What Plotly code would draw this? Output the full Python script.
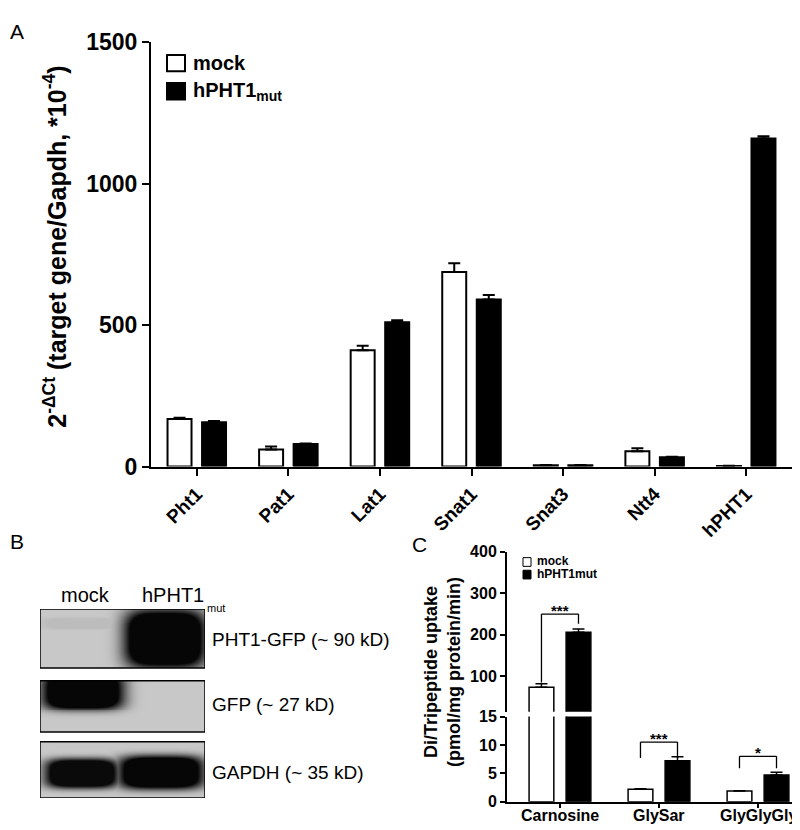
import numpy as np
import plotly.graph_objects as go

# ---- panel A: qPCR, 2^-dCt relative to Gapdh (*10^-4)
genes = ["Pht1", "Pat1", "Lat1", "Snat1", "Snat3", "Ntt4", "hPHT1"]
mock_a = [168, 60, 411, 688, 5, 54, 2]
mock_a_err = [5, 11, 16, 31, 1, 11, 1]
mut_a = [157, 80, 510, 591, 5, 33, 1160]
mut_a_err = [4, 2, 7, 16, 1, 2, 8]

# ---- panel C: di/tripeptide uptake (pmol/mg protein/min)
peptides = ["Carnosine", "GlySar", "GlyGlyGly"]
mock_c = [74, 2.2, 1.9]
mock_c_err = [8, 0.1, 0.05]
mut_c = [206, 7.2, 4.7]
mut_c_err = [8, 0.7, 0.5]
stars_c = ["***", "***", "*"]

FONT = "Liberation Sans, Arial, sans-serif"
W, H = 800, 830


def px(x):
    return x / W


def py(y):
    return 1 - y / H


fig = go.Figure()

# panel A bars
err_style = dict(type="data", symmetric=False, color="black", thickness=2, width=6)
fig.add_trace(go.Bar(x=genes, y=mock_a, width=0.262, offset=-0.3195,
                     marker=dict(color="white", line=dict(color="black", width=2)),
                     error_y=dict(array=mock_a_err, arrayminus=[0] * len(genes), **err_style),
                     xaxis="x", yaxis="y", showlegend=False))
fig.add_trace(go.Bar(x=genes, y=mut_a, width=0.262, offset=0.0575,
                     marker=dict(color="black", line=dict(color="black", width=2)),
                     error_y=dict(array=mut_a_err, arrayminus=[0] * len(genes), **err_style),
                     xaxis="x", yaxis="y", showlegend=False))

# panel C bars, drawn twice for the broken axis (bottom 0-15, top 15-400)
err_c = dict(type="data", symmetric=False, color="black", thickness=1.5, width=6)
for xa, ya in [("x2", "y2"), ("x3", "y3")]:
    fig.add_trace(go.Bar(x=peptides, y=mock_c, width=0.25, offset=-0.312,
                         marker=dict(color="white", line=dict(color="black", width=1.5)),
                         error_y=dict(array=mock_c_err, arrayminus=[0] * 3, **err_c),
                         xaxis=xa, yaxis=ya, showlegend=False))
    fig.add_trace(go.Bar(x=peptides, y=mut_c, width=0.25, offset=0.062,
                         marker=dict(color="black", line=dict(color="black", width=1.5)),
                         error_y=dict(array=mut_c_err, arrayminus=[0] * 3, **err_c),
                         xaxis=xa, yaxis=ya, showlegend=False))


# panel B: western blot pictures (grey background, dark bands)
def blot_image(x0, x1, y0, y1, bands, bg=200):
    xs = np.arange(x0, x1) + 0.5
    ys = np.arange(y0, y1) + 0.5
    X, Y = np.meshgrid(xs, ys)
    dark = np.zeros_like(X)
    for cx, cy, rx, ry, d in bands:
        blob = np.exp(-(np.abs((X - cx) / rx) ** 4 + np.abs((Y - cy) / ry) ** 4))
        dark = np.maximum(dark, d * np.clip(1.8 * blob, 0, 1))
    return xs, ys, bg * (1 - dark)


blots = [
    (32, 197, 607, 668, [(75, 622, 40, 6, 0.06), (157, 638, 40, 30, 0.97)]),
    (32, 197, 681, 734, [(75, 692, 40, 19, 0.97)]),
    (32, 197, 744, 802, [(74, 777, 36, 15, 0.95), (153, 776, 42, 17, 0.97)]),
]
for x0, x1, y0, y1, bands in blots:
    xs, ys, z = blot_image(x0, x1, y0, y1, bands)
    fig.add_trace(go.Heatmap(x=xs, y=ys, z=z, zmin=0, zmax=255, showscale=False,
                             colorscale=[[0, "black"], [1, "white"]], hoverinfo="skip",
                             xaxis="x4", yaxis="y4"))

axis_common = dict(showline=True, linecolor="black", linewidth=2, ticks="outside",
                   tickcolor="black", showgrid=False, zeroline=False)

fig.update_layout(
    width=W, height=H, margin=dict(l=0, r=0, t=0, b=0),
    paper_bgcolor="white", plot_bgcolor="white", barmode="overlay",
    font=dict(family=FONT, color="black"),
    xaxis=dict(domain=[px(143), px(784)], range=[-0.5, 6.5], anchor="y",
               tickangle=-45, ticklen=7, tickwidth=2,
               tickfont=dict(size=19, weight="bold"), **axis_common),
    yaxis=dict(domain=[py(460), py(22)], range=[0, 1500], dtick=500, anchor="x",
               ticklen=7, tickwidth=2, tickfont=dict(size=23, weight="bold"), **axis_common),
    xaxis2=dict(domain=[px(499), 1.0], range=[-0.535, 2.505], anchor="y2",
                ticklen=4, tickwidth=1.5, showticklabels=False, **axis_common),
    yaxis2=dict(domain=[py(806), py(718)], range=[0, 15], tickvals=[0, 5, 10, 15], anchor="x2",
                ticklen=5, tickwidth=1.5, tickfont=dict(size=16, weight="bold"), **axis_common),
    xaxis3=dict(domain=[px(499), 1.0], range=[-0.535, 2.505], anchor="y3", matches="x2",
                visible=False),
    yaxis3=dict(domain=[py(713), py(548)], range=[15, 400], tickvals=[100, 200, 300, 400],
                anchor="x3", ticklen=5, tickwidth=1.5,
                tickfont=dict(size=16, weight="bold"), **axis_common),
    xaxis4=dict(domain=[px(32), px(197)], range=[32, 197], visible=False, anchor="y4"),
    yaxis4=dict(domain=[py(802), py(607)], range=[802, 607], visible=False, anchor="x4"),
)

for x0, x1, y0, y1, _ in blots:
    fig.add_shape(type="rect", xref="x4", yref="y4", x0=x0, x1=x1, y0=y0, y1=y1,
                  line=dict(color="black", width=1.5))

# category labels of panel C placed just under the axis
for p in peptides:
    fig.add_annotation(x=p, y=py(820), xref="x2", yref="paper", text="<b>" + p + "</b>",
                       showarrow=False, yanchor="middle", font=dict(size=16))

# significance brackets in panel C
bracket_top = [250, 10.5, 8.0]
leg_left = [85, 7.7, 5.9]
leg_right = [227, 7.7, 5.9]
for i, s in enumerate(stars_c):
    xa, ya = ("x3", "y3") if i == 0 else ("x2", "y2")
    xl, xr = i - 0.187, i + 0.187
    ln = dict(color="black", width=1.3)
    fig.add_shape(type="line", xref=xa, yref=ya, x0=xl, x1=xl, y0=leg_left[i], y1=bracket_top[i], line=ln)
    fig.add_shape(type="line", xref=xa, yref=ya, x0=xl, x1=xr, y0=bracket_top[i], y1=bracket_top[i], line=ln)
    fig.add_shape(type="line", xref=xa, yref=ya, x0=xr, x1=xr, y0=leg_right[i], y1=bracket_top[i], line=ln)
    fig.add_annotation(x=i, y=bracket_top[i], xref=xa, yref=ya, text="<b>" + s + "</b>",
                       showarrow=False, yanchor="bottom", yshift=-7, font=dict(size=15))

ann = []


def text(x, y, t, size, xanchor="left", angle=0):
    ann.append(dict(x=px(x), y=py(y), xref="paper", yref="paper", text=t, showarrow=False,
                    xanchor=xanchor, yanchor="middle", textangle=angle,
                    font=dict(size=size, family=FONT, color="black")))


# panel letters
text(0, 11, "A", 21)
text(0, 537, "B", 21)
text(402, 540, "C", 21)

# panel A titles and legend
text(47, 233, "<b>2<sup>-ΔCt</sup> (target gene/Gapdh, *10<sup>-4</sup>)</b>", 25, "center", -90)
text(183, 43, "<b>mock</b>", 20)
text(183, 73, "<b>hPHT1<sub>mut</sub></b>", 20)
fig.add_shape(type="rect", xref="paper", yref="paper", x0=px(159), x1=px(177), y0=py(35), y1=py(52),
              line=dict(color="black", width=2), fillcolor="white")
fig.add_shape(type="rect", xref="paper", yref="paper", x0=px(159), x1=px(177), y0=py(64), y1=py(81),
              line=dict(color="black", width=2), fillcolor="black")

# panel B labels
text(77, 593, "mock", 20, "center")
text(132, 593, "hPHT1", 20)
text(197, 606, "mut", 11)
text(202, 638, "PHT1-GFP (~ 90 kD)", 19)
text(202, 706, "GFP (~ 27 kD)", 19)
text(202, 776, "GAPDH (~ 35 kD)", 19)

# panel C title and legend
text(435, 672, "<b>Di/Tripeptide uptake<br>(pmol/mg protein/min)</b>", 18, "center", -90)
fig.add_shape(type="rect", xref="paper", yref="paper", x0=px(515), x1=px(523), y0=py(554), y1=py(563),
              line=dict(color="black", width=1), fillcolor="white")
fig.add_shape(type="rect", xref="paper", yref="paper", x0=px(515), x1=px(523), y0=py(567), y1=py(576),
              line=dict(color="black", width=1), fillcolor="black")
text(527, 557, "<b>mock</b>", 12)
text(527, 571, "<b>hPHT1mut</b>", 12)

fig.update_layout(annotations=list(fig.layout.annotations) + ann)

fig.write_html("out.html")
